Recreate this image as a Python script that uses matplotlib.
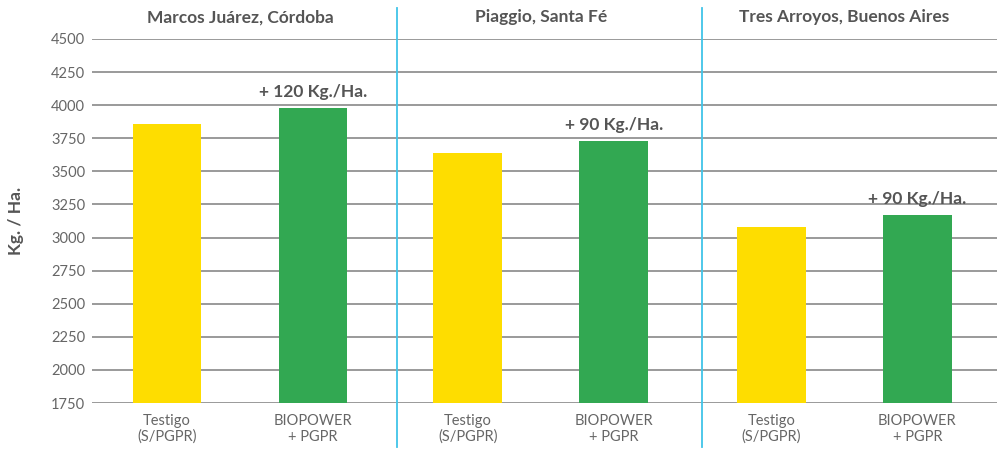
import numpy as np
import matplotlib.pyplot as plt

# Data
sites = ['Marcos Juárez, Córdoba', 'Piaggio, Santa Fé', 'Tres Arroyos, Buenos Aires']
treatments = ['Testigo\n(S/PGPR)', 'BIOPOWER\n+ PGPR']
testigo = [3860, 3640, 3080]
biopower = [3980, 3730, 3170]
gains = ['+ 120 Kg./Ha.', '+ 90 Kg./Ha.', '+ 90 Kg./Ha.']
yticks = list(range(1750, 4501, 250))

plt.rcParams['font.family'] = ['Lato', 'DejaVu Sans']

yellow = '#fedd00'
green = '#32a852'
blue = '#40c4e8'
grey_txt = '#555555'

fig = plt.figure(figsize=(9.97, 4.5), dpi=100)
ax = fig.add_axes([0.0923, 0.1044, 0.9077, 0.809])

# x positions of bars (groups spaced slightly wider than within-group)
group_start = np.array([0.0, 2.06, 4.14])
bw = 0.47
x_t = group_start
x_b = group_start + 1.0

ax.bar(x_t, [v - 1750 for v in testigo], bottom=1750, width=bw, color=yellow, zorder=3)
ax.bar(x_b, [v - 1750 for v in biopower], bottom=1750, width=bw, color=green, zorder=3)

ax.set_xlim(-0.514, 5.685)
ax.set_ylim(1750, 4500)
ax.set_yticks(yticks)
ax.yaxis.grid(True, color='#9a9a9a', linewidth=1.4, zorder=0)
ax.set_axisbelow(True)
ax.tick_params(axis='y', length=0, pad=5, labelsize=10.5, labelcolor='#666666')
ax.tick_params(axis='x', length=0, pad=8, labelsize=10.5, labelcolor='#666666')
for s in ax.spines.values():
    s.set_visible(False)

ax.set_xticks(list(x_t) + list(x_b))
ax.set_xticklabels([treatments[0]] * 3 + [treatments[1]] * 3, linespacing=1.15)

# gain annotations above green bars
for xb, v, g in zip(x_b, biopower, gains):
    ax.text(xb, v + 60, g, ha='center', va='bottom', fontsize=12.5,
            fontweight='bold', color=grey_txt)

# site titles
centers = [0.5, 2.56, 4.64]
for c, s in zip(centers, sites):
    ax.text(c, 1.06, s, transform=ax.get_xaxis_transform(), ha='center',
            va='center', fontsize=12.5, fontweight='bold', color=grey_txt)

# blue dividers
for d in [1.575, 3.664]:
    ax.axvline(d, ymin=-0.121, ymax=1.085, color=blue, linewidth=1.3,
               clip_on=False, zorder=4)

fig.text(0.016, 0.51, 'Kg. / Ha.', rotation=90, ha='center', va='center',
         fontsize=12.5, fontweight='bold', color=grey_txt)

fig.savefig('out.png', dpi=100)
